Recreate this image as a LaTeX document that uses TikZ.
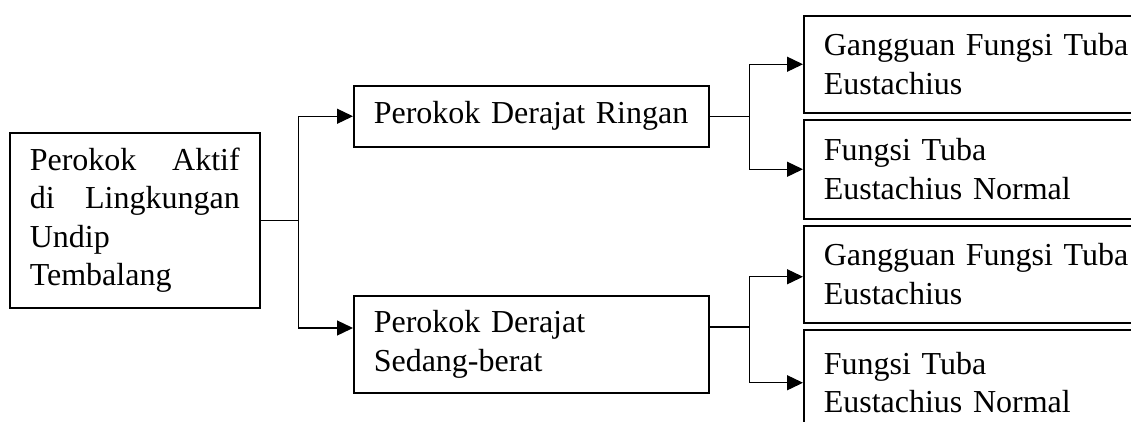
\documentclass[tikz,border=0pt]{standalone}
\usepackage{fontspec}
\setmainfont{Liberation Serif}
\usetikzlibrary{arrows.meta,calc}
\begin{document}
\begin{tikzpicture}[x=1pt,y=-1pt,
  box/.style={draw,line width=1.5pt,anchor=north west,inner xsep=20pt,inner ysep=0pt,
    align=left,font=\fontsize{32}{38.5}\selectfont},
  link/.style={line width=1.3pt},
  arr/.style={link,-{Triangle[length=16pt,width=15pt]}}]
\clip (0,0) rectangle (1131,421);
\node[box,text width=210pt,minimum height=175pt] (L) at (9,132)
  {Perokok\hfill Aktif\\di\hfill Lingkungan\\Undip\\Tembalang};
\node[box,text width=315pt,minimum height=61pt] (A) at (353,85) {Perokok Derajat Ringan};
\node[box,text width=315pt,minimum height=97pt] (B) at (353,295) {Perokok Derajat\\Sedang-berat};
\node[box,text width=330pt,minimum height=97pt] (R1) at (803,15) {Gangguan Fungsi Tuba\\Eustachius};
\node[box,text width=330pt,minimum height=99pt] (R2) at (803,119) {Fungsi Tuba\\Eustachius Normal};
\node[box,text width=330pt,minimum height=97pt] (R3) at (803,225) {Gangguan Fungsi Tuba\\Eustachius};
\node[box,text width=330pt,minimum height=106pt] (R4) at (803,329) {Fungsi Tuba\\Eustachius Normal};
% left splits
\draw[link] (L.east) -- ++(38,0) coordinate (j1);
\draw[arr] (j1) |- (A.west);
\draw[arr] (j1) |- ($(B.north west)+(0,33)$);
% upper splits
\draw[link] (A.east) -- ++(40,0) coordinate (j2);
\draw[arr] (j2) |- (R1.west);
\draw[arr] (j2) |- (R2.west);
% lower splits
\draw[link] ($(B.north east)+(0,32)$) -- ++(40,0) coordinate (j3);
\draw[arr] (j3) |- ($(R3.west)+(0,2.5)$);
\draw[arr] (j3) |- (R4.west);
\end{tikzpicture}
\end{document}
